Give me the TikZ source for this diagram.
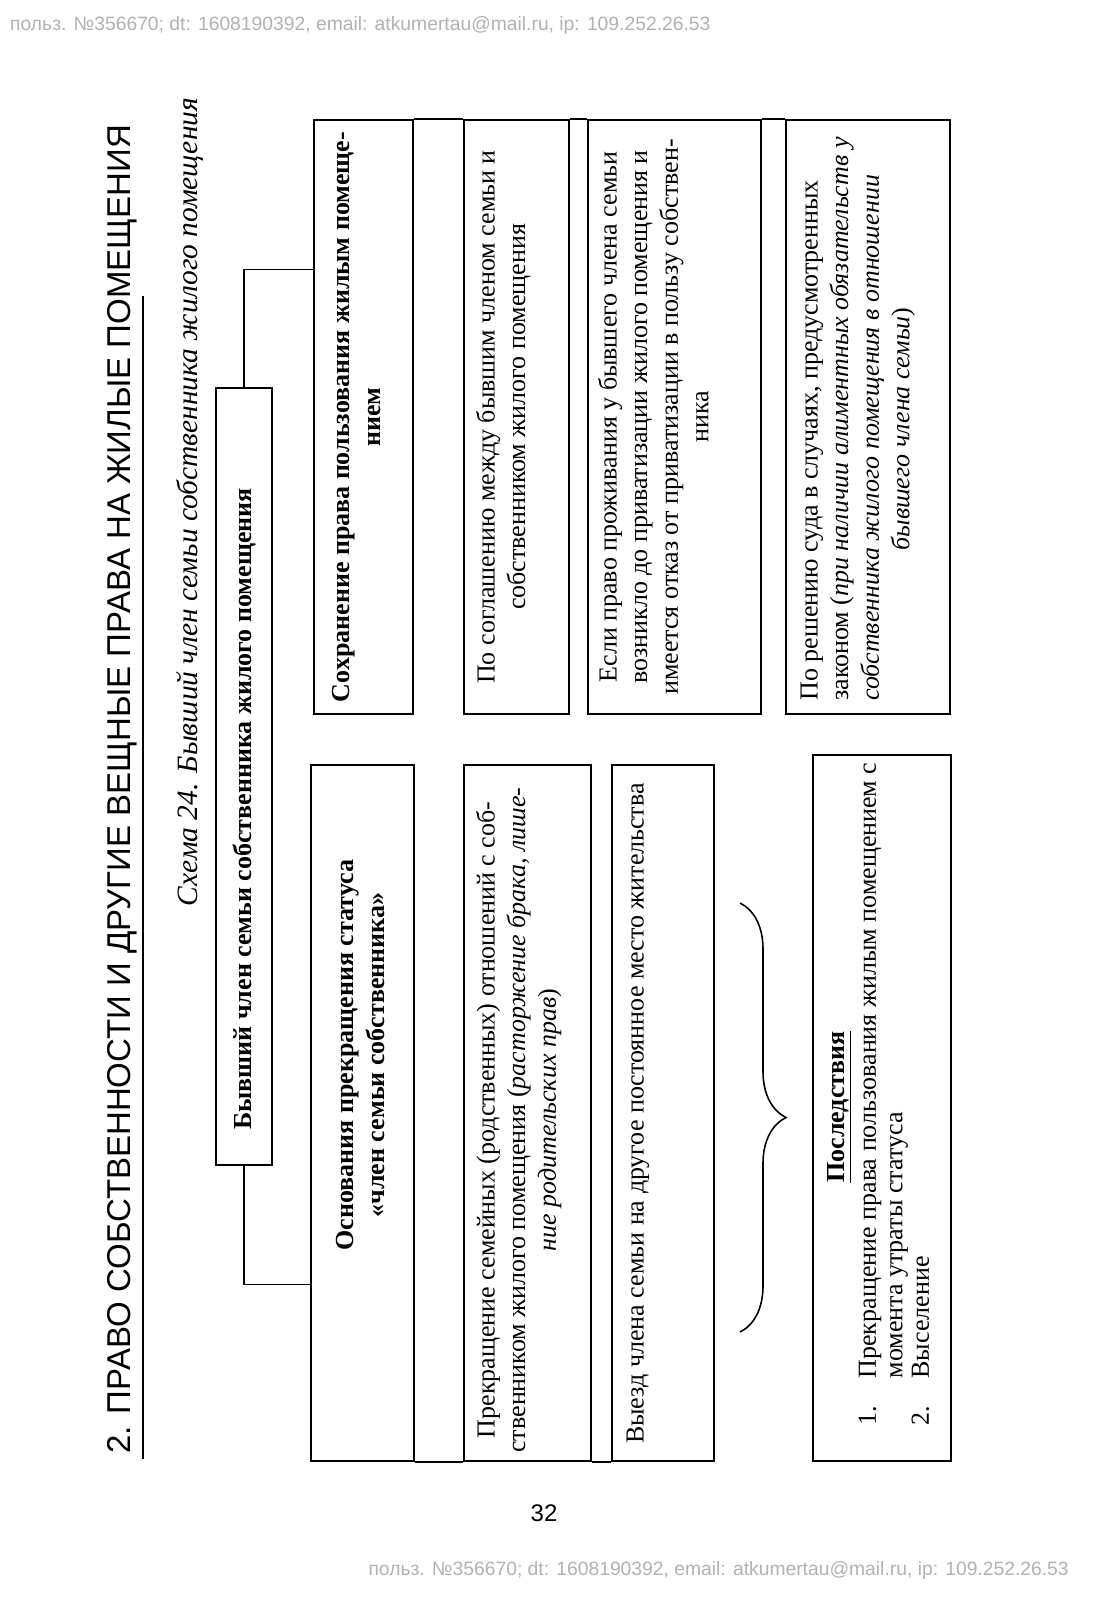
\documentclass[tikz,border=0pt]{standalone}
\usepackage{fontspec}
\setmainfont{Liberation Serif}
\newfontfamily\arialf{Liberation Sans}
\usetikzlibrary{decorations.pathreplacing,calc}
\newcommand{\vtab}[1]{\begin{tabular}{@{}c@{}}#1\end{tabular}}
\newcommand{\vtabl}[1]{\begin{tabular}{@{}l@{}}#1\end{tabular}}
\begin{document}
\begin{tikzpicture}[x=1pt,y=-1pt,
  box/.style={draw, line width=2.2pt, rectangle, inner sep=0pt},
  conn/.style={line width=1.6pt},
  boxline/.style={line width=2.2pt},
  brc/.style={line width=1.6pt, decorate, decoration={brace, amplitude=46pt, aspect=0.5}},
  bt/.style={rotate=90, inner sep=0pt, font=\fontsize{26}{30.6}\selectfont},
  btb/.style={bt, font=\bfseries\fontsize{26}{30.6}\selectfont},
  wm/.style={font=\arialf\fontsize{19.3}{20}\selectfont, text=black!30, inner sep=0pt}]
\fill[white] (0,0) rectangle (1093,1600);
\useasboundingbox (0,0) rectangle (1093,1600);

% watermarks
\node[wm, anchor=west] (wm1) at (10,25.5) {польз. №356670; dt: 1608190392, email: atkumertau@mail.ru, ip: 109.252.26.53};
\node[wm, anchor=east] (wm2) at (1069,1570) {польз. №356670; dt: 1608190392, email: atkumertau@mail.ru, ip: 109.252.26.53};

% title
\node[rotate=90, anchor=west, inner sep=0pt, font=\arialf\fontsize{33}{36}\selectfont] (title) at (122,1454) {2. ПРАВО СОБСТВЕННОСТИ И ДРУГИЕ ВЕЩНЫЕ ПРАВА НА ЖИЛЫЕ ПОМЕЩЕНИЯ};
\draw[line width=1.6pt] (143,296) -- (143,1459);

% caption
\node[rotate=90, inner sep=0pt, font=\itshape\fontsize{29.5}{32}\selectfont] (cap) at (190,502) {Схема 24. Бывший член семьи собственника жилого помещения};

% top box
\node[box, minimum width=56, minimum height=777] (fm) at (244,776.5) {};
\node[btb] (fmt) at (244,809) {Бывший член семьи собственника жилого помещения};

% right group
\node[box, minimum width=99, minimum height=594] (b1) at (363.5,417) {};
\node[box, minimum width=105, minimum height=594] (b2) at (516.5,417) {};
\node[box, minimum width=173, minimum height=594] (b3) at (674.5,417) {};
\node[box, minimum width=164, minimum height=594] (b4) at (868,417) {};
\draw[boxline] (b1.north east) -- (b2.north west) (b2.north east) -- (b3.north west) (b3.north east) -- (b4.north west);

\node[btb, anchor=north] (b1t) at (328,417) {\vtab{Сохранение права пользования жилым помеще-\\нием}};
\node[bt, anchor=north] (b2t) at (473,417) {\vtab{По соглашению между бывшим членом семьи и\\собственником жилого помещения}};
\node[bt, anchor=north] (b3t) at (595,417) {\vtab{Если право проживания у бывшего члена семьи\\возникло до приватизации жилого помещения и\\имеется отказ от приватизации в пользу собствен-\\ника}};
\node[bt, anchor=north] (b4t) at (796,419) {\vtabl{По решению суда в случаях, предусмотренных\\законом (\textit{при наличии алиментных обязательств у}\\\textit{собственника жилого помещения в отношении}\\\hspace*{150pt}\textit{бывшего члена семьи})}};

% left group
\node[box, minimum width=103, minimum height=696] (c1) at (362.5,1113) {};
\node[box, minimum width=127, minimum height=696] (c2) at (527.5,1113) {};
\node[box, minimum width=102, minimum height=696] (c3) at (663,1113) {};
\node[box, minimum width=138, minimum height=706] (c4) at (882,1108) {};
\draw[boxline] (c1.south east) -- (c2.south west) (c2.south east) -- (c3.south west);

\node[btb, anchor=north] (c1t) at (332,1055) {\vtab{Основания прекращения статуса\\«член семьи собственника»}};
\node[bt, anchor=north] (c2t) at (473,1120) {\vtab{Прекращение семейных (родственных) отношений с соб-\\ственником жилого помещения (\textit{расторжение брака, лише-}\\\textit{ние родительских прав})}};
\node[bt, anchor=west] (c3t) at (638,1444) {Выезд члена семьи на другое постоянное место жительства};

\node[btb] (c4h) at (839,1107) {\underline{Последствия}};
\node[bt, anchor=west, font=\fontsize{26}{26.5}\selectfont] (c4l) at (897,1426) {\begin{tabular}{@{}l@{\hspace{28pt}}l@{}}1. & Прекращение права пользования жилым помещением с\\ & момента утраты статуса\\2. & Выселение\end{tabular}};

% connectors
\draw[conn] (fm.north) |- ($(b1.north west)!0.2525!(b1.south west)$);
\draw[conn] (fm.south) |- ($(c1.north west)!0.7457!(c1.south west)$);

% brace
\coordinate (br1) at (740,903);
\coordinate (br2) at (740,1332);
\draw[brc] (br1) -- (br2);

% page number
\node[font=\arialf\fontsize{24}{24}\selectfont, inner sep=0pt] (pg) at (544,1513) {32};
\end{tikzpicture}
\end{document}
